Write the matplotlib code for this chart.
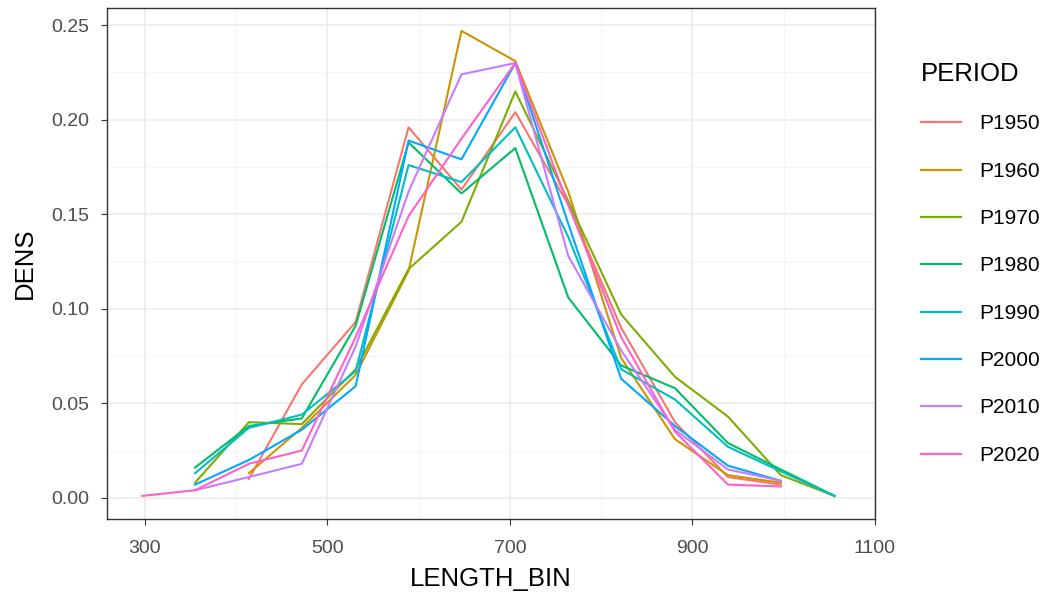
import matplotlib
matplotlib.use('Agg')
import matplotlib.pyplot as plt
from matplotlib.ticker import MultipleLocator

# ── Data ──────────────────────────────────────────────────────────────────────
LENGTH_BIN = [297, 355, 414, 472, 531, 589, 647, 706, 764, 822, 881, 939, 997, 1056]

periods = ['P1950', 'P1960', 'P1970', 'P1980', 'P1990', 'P2000', 'P2010', 'P2020']

# None = no observation in that bin
dens_p1950 = [None, None, 0.010, 0.060, 0.093, 0.196, 0.163, 0.204, 0.155, 0.090, 0.040, 0.011, 0.007, None]
dens_p1960 = [None, None, 0.013, 0.037, 0.065, 0.120, 0.247, 0.231, 0.162, 0.074, 0.031, 0.012, 0.008, None]
dens_p1970 = [None, 0.008, 0.040, 0.039, 0.068, 0.121, 0.146, 0.215, 0.157, 0.097, 0.064, 0.043, 0.012, 0.001]
dens_p1980 = [None, 0.016, 0.038, 0.042, 0.091, 0.188, 0.161, 0.185, 0.106, 0.070, 0.058, 0.029, 0.015, 0.001]
dens_p1990 = [None, 0.013, 0.037, 0.044, 0.067, 0.176, 0.167, 0.196, 0.138, 0.068, 0.052, 0.027, 0.014, 0.001]
dens_p2000 = [None, 0.007, 0.020, 0.036, 0.059, 0.189, 0.179, 0.230, 0.145, 0.063, 0.038, 0.017, 0.009, None]
dens_p2010 = [None, 0.004, 0.011, 0.018, 0.080, 0.162, 0.224, 0.230, 0.128, 0.078, 0.036, 0.015, 0.009, None]
dens_p2020 = [0.001, 0.004, 0.018, 0.025, 0.085, 0.149, 0.190, 0.230, 0.155, 0.085, 0.035, 0.007, 0.006, None]

series = [dens_p1950, dens_p1960, dens_p1970, dens_p1980,
          dens_p1990, dens_p2000, dens_p2010, dens_p2020]

# ggplot2 default hue palette for 8 levels
colors = ['#F8766D', '#CD9600', '#7CAE00', '#00BE67',
          '#00BFC4', '#00A9FF', '#C77CFF', '#FF61CC']

plt.rcParams['font.family'] = ['Liberation Sans', 'DejaVu Sans']

fig = plt.figure(figsize=(10.54, 6.0), dpi=100)
ax = fig.add_axes([0.1015, 0.135, 0.7285, 0.852])

for name, vals, col in zip(periods, series, colors):
    xs = [x for x, v in zip(LENGTH_BIN, vals) if v is not None]
    ys = [v for v in vals if v is not None]
    ax.plot(xs, ys, color=col, lw=1.5, label=name)

ax.set_xlim(258.5, 1098)
ax.set_ylim(-0.0112, 0.2592)

ax.xaxis.set_minor_locator(MultipleLocator(100))
ax.yaxis.set_minor_locator(MultipleLocator(0.025))
ax.set_xticks([300, 500, 700, 900, 1100])
ax.set_yticks([0.0, 0.05, 0.10, 0.15, 0.20, 0.25])
ax.set_yticklabels(['0.00', '0.05', '0.10', '0.15', '0.20', '0.25'])

ax.grid(True, which='major', color='#EBEBEB', lw=1.1, zorder=0)
ax.grid(True, which='minor', color='#F2F2F2', lw=0.6, zorder=0)
ax.set_axisbelow(True)

for sp in ax.spines.values():
    sp.set_color('#333333')
    sp.set_linewidth(1.0)

ax.tick_params(which='major', length=4, width=0.8, color='#333333',
               labelsize=14, labelcolor='#4D4D4D')
ax.tick_params(axis='x', which='major', pad=11)
ax.tick_params(axis='y', which='major', pad=9)
ax.tick_params(which='minor', length=0)

ax.set_xlabel('LENGTH_BIN', fontsize=18.5, color='black', labelpad=7)
ax.set_ylabel('DENS', fontsize=18.5, color='black', labelpad=10)

leg = ax.legend(loc='upper left', bbox_to_anchor=(1.049, 0.91), frameon=False,
                title='PERIOD', fontsize=15, title_fontsize=18.5,
                handlelength=1.95, handletextpad=0.85, labelspacing=1.36,
                alignment='left', borderaxespad=0)
for line in leg.get_lines():
    line.set_linewidth(1.6)

fig.savefig('out.png', dpi=100, facecolor='white')
